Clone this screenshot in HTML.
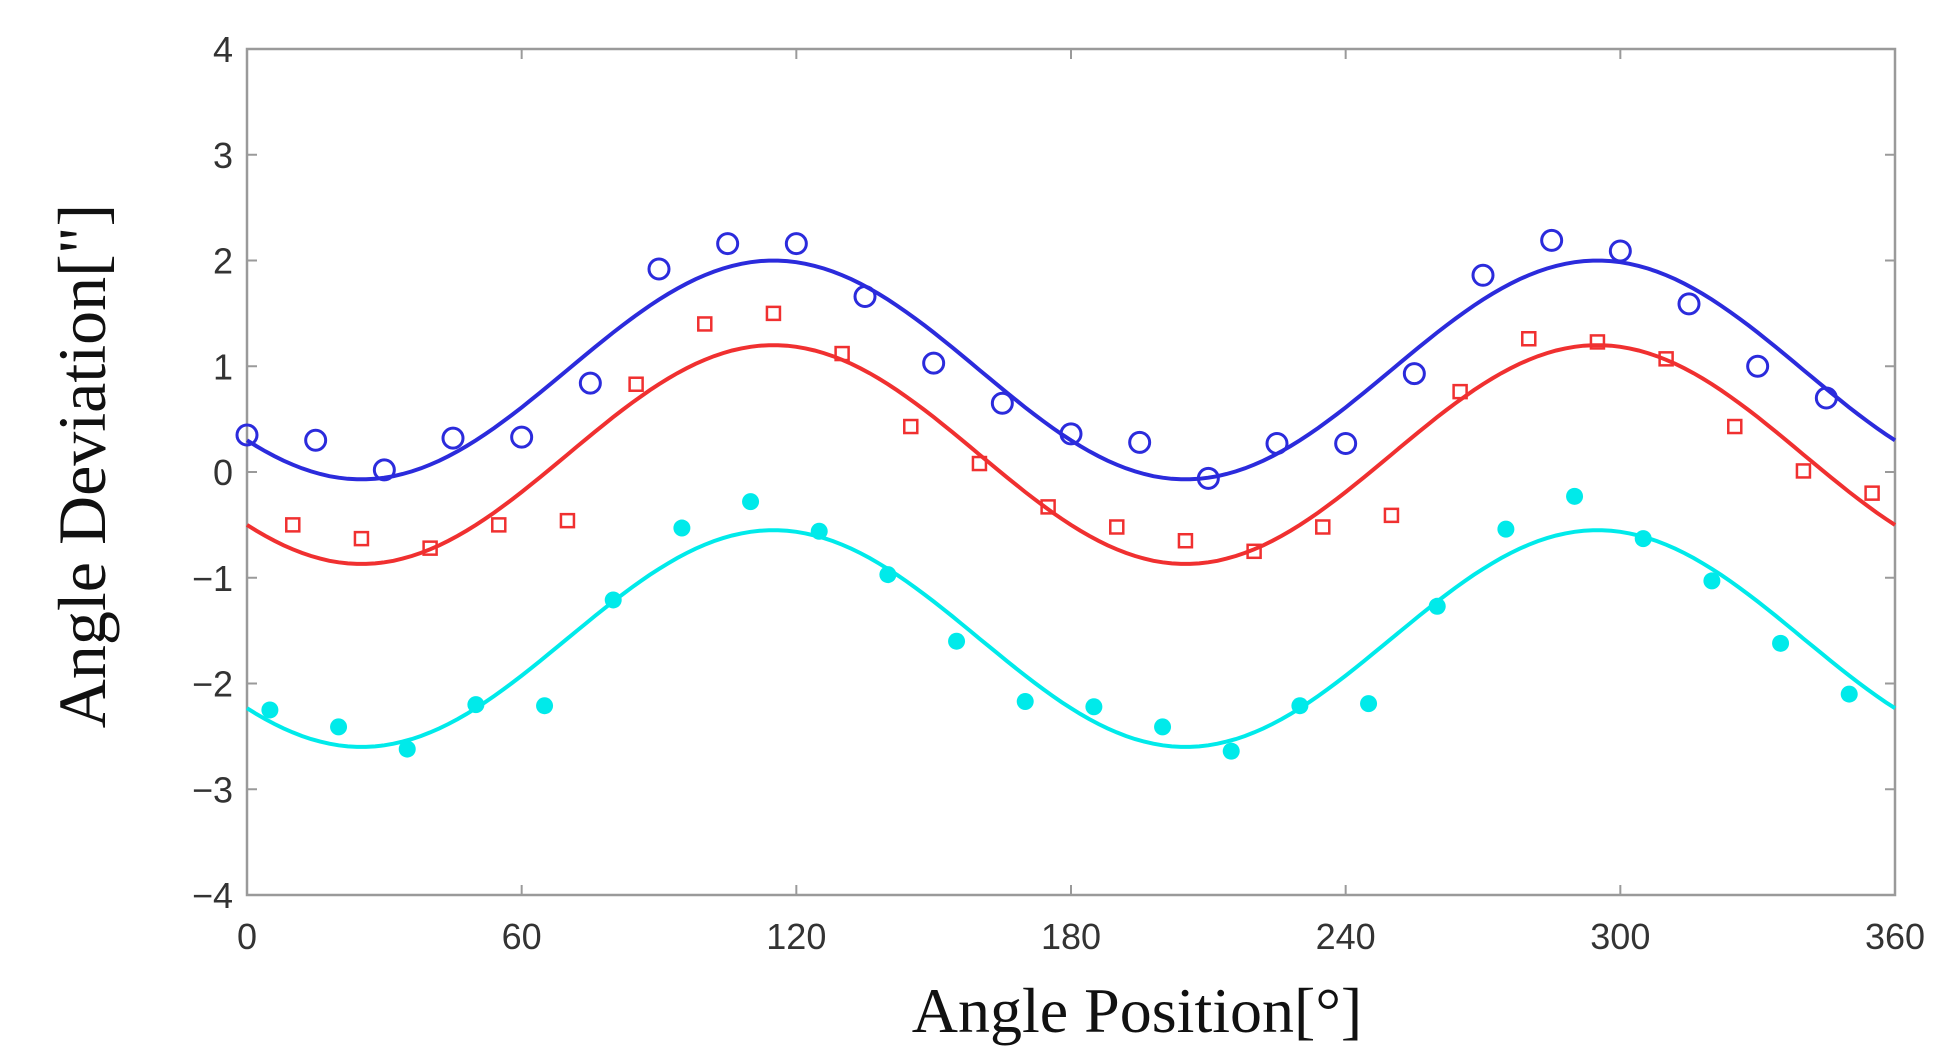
<!DOCTYPE html>
<html><head><meta charset="utf-8"><style>
html,body{margin:0;padding:0;background:#fff;}
svg{display:block;}
</style></head><body>
<svg id="c" width="1959" height="1064" xmlns="http://www.w3.org/2000/svg">
<rect width="1959" height="1064" fill="#fff"/>
<g id="plot"></g>
<text x="1137" y="1032" font-family="Liberation Serif, serif" font-size="64" text-anchor="middle" fill="#111">Angle Position[°]</text>
<text transform="translate(105,466) rotate(-90)" font-family="Liberation Serif, serif" font-size="68" text-anchor="middle" fill="#111">Angle Deviation["]</text>
</svg>
<script>
const L=247,R=1895,T=49,B=895;
const X=d=>L+(R-L)*d/360, Y=v=>472-105.75*v;
const g=document.getElementById('plot');let s='';
s+=`<rect x="${L}" y="${T}" width="${R-L}" height="${B-T}" fill="none" stroke="#9a9a9a" stroke-width="2.5"/>`;
for(let d=0;d<=360;d+=60){const x=X(d);
 s+=`<line x1="${x}" y1="${B}" x2="${x}" y2="${B-10}" stroke="#9a9a9a" stroke-width="2"/><line x1="${x}" y1="${T}" x2="${x}" y2="${T+10}" stroke="#9a9a9a" stroke-width="2"/>`;
 s+=`<text x="${x}" y="${B+54}" font-family="Liberation Sans, sans-serif" font-size="36" text-anchor="middle" fill="#333">${d}</text>`;}
for(let v=-4;v<=4;v++){const y=Y(v);
 s+=`<line x1="${L}" y1="${y}" x2="${L+10}" y2="${y}" stroke="#9a9a9a" stroke-width="2"/><line x1="${R}" y1="${y}" x2="${R-10}" y2="${y}" stroke="#9a9a9a" stroke-width="2"/>`;
 s+=`<text x="${233}" y="${y+13}" font-family="Liberation Sans, sans-serif" font-size="36" text-anchor="end" fill="#333">${v<0?'\u2212'+(-v):v}</text>`;}
function curve(mid,amp,col){let p='';for(let d=0;d<=360;d+=2){const v=mid+amp*Math.cos(2*(d-115)*Math.PI/180);p+=(d?'L':'M')+X(d).toFixed(1)+','+Y(v).toFixed(1);}
 return `<path d="${p}" fill="none" stroke="${col}" stroke-width="4"/>`;}
s+=curve(0.965,1.035,'#2b2bdc');s+=curve(0.165,1.035,'#f03030');s+=curve(-1.575,1.025,'#00eaea');
const bl=[0.35,0.3,0.02,0.32,0.33,0.84,1.92,2.16,2.16,1.66,1.03,0.65,0.36,0.28,-0.06,0.27,0.27,0.93,1.86,2.19,2.09,1.59,1.0,0.7];
const rd=[-0.5,-0.63,-0.72,-0.5,-0.46,0.83,1.4,1.5,1.12,0.43,0.08,-0.33,-0.52,-0.65,-0.75,-0.52,-0.41,0.76,1.26,1.23,1.07,0.43,0.01,-0.2];
const cy=[-2.25,-2.41,-2.62,-2.2,-2.21,-1.21,-0.53,-0.28,-0.56,-0.97,-1.6,-2.17,-2.22,-2.41,-2.64,-2.21,-2.19,-1.27,-0.54,-0.23,-0.63,-1.03,-1.62,-2.1];
bl.forEach((v,i)=>{s+=`<circle cx="${X(i*15)}" cy="${Y(v)}" r="10" fill="none" stroke="#2b2bdc" stroke-width="3"/>`;});
rd.forEach((v,i)=>{const x=X(10+i*15),y=Y(v);s+=`<rect x="${x-6.5}" y="${y-6.5}" width="13" height="13" fill="none" stroke="#f03030" stroke-width="2.5"/>`;});
cy.forEach((v,i)=>{s+=`<circle cx="${X(5+i*15)}" cy="${Y(v)}" r="8.5" fill="#00eaea"/>`;});
g.innerHTML=s;
</script>
</body></html>
